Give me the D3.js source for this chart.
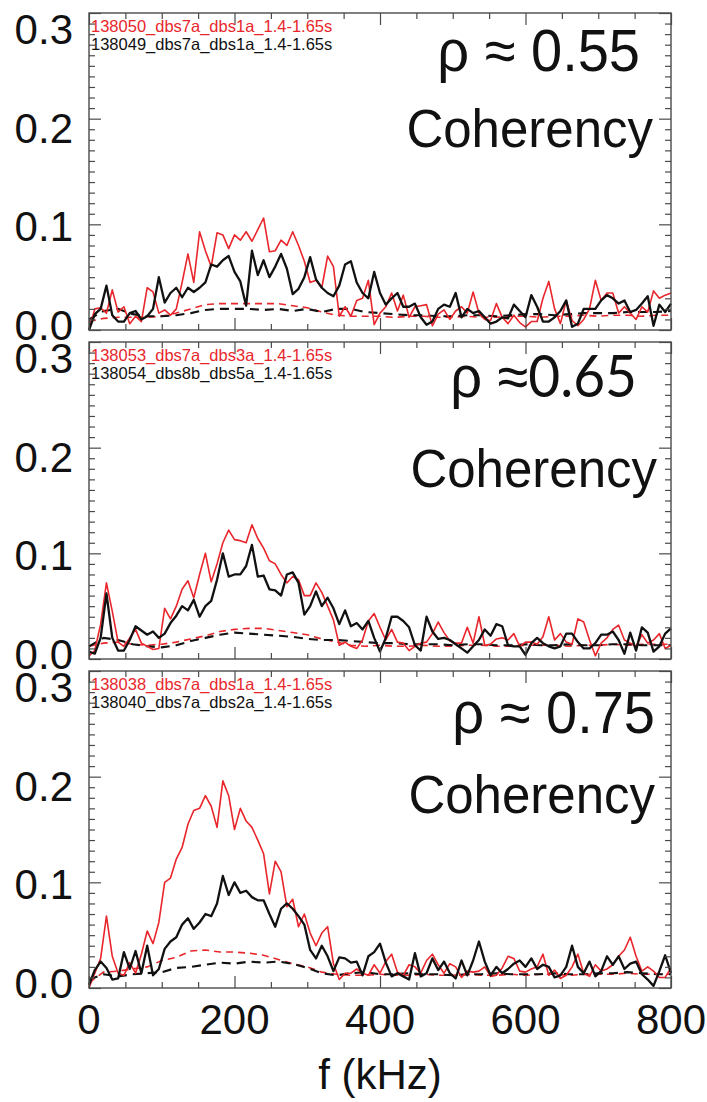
<!DOCTYPE html>
<html>
<head>
<meta charset="utf-8">
<script src="https://cdn.jsdelivr.net/npm/d3@7"></script>
<style>
    body { margin: 0; background: #fff; }
    svg { display: block; }
</style>
</head>
<body>
<div id="chart"></div>
<script>
// frequency grids (kHz)
const freq = d3.range(0, 801, 8)
const dashFreq = d3.range(0, 801, 20)

const xTickLabels = ["0", "200", "400", "600", "800"]
const yTickLabels = ["0.0", "0.1", "0.2", "0.3"]
const rhoLabels = ["0.55", "0.65", "0.75"]
const redNames = ["138050_dbs7a_dbs1a_1.4-1.65s", "138053_dbs7a_dbs3a_1.4-1.65s", "138038_dbs7a_dbs1a_1.4-1.65s"]
const blackNames = ["138049_dbs7a_dbs1a_1.4-1.65s", "138054_dbs8b_dbs5a_1.4-1.65s", "138040_dbs7a_dbs2a_1.4-1.65s"]

// panel 1 (rho ~ 0.55)
const red1 = [0.0, 0.02, 0.021, 0.016, 0.038, 0.017, 0.022, 0.006, 0.013, 0.008,
    0.04, 0.036, 0.016, 0.019, 0.014, 0.02, 0.045, 0.072, 0.045, 0.093,
    0.075, 0.06, 0.092, 0.09, 0.077, 0.09, 0.085, 0.093, 0.084, 0.095,
    0.106, 0.074, 0.075, 0.085, 0.08, 0.093, 0.08, 0.065, 0.045, 0.047,
    0.04, 0.07, 0.06, 0.013, 0.022, 0.013, 0.028, 0.03, 0.047, 0.005,
    0.016, 0.022, 0.035, 0.018, 0.033, 0.012, 0.022, 0.023, 0.024, 0.004,
    0.015, 0.019, 0.01, 0.018, 0.022, 0.016, 0.036, 0.016, 0.01, 0.009,
    0.025, 0.012, 0.006, 0.014, 0.007, 0.003, 0.008, 0.008, 0.03, 0.046,
    0.02, 0.006, 0.028, 0.009, 0.004, 0.01, 0.02, 0.047, 0.028, 0.035,
    0.035, 0.016, 0.022, 0.016, 0.01, 0.022, 0.017, 0.037, 0.03, 0.033, 0.035]
const black1 = [0.0, 0.015, 0.02, 0.042, 0.014, 0.008, 0.008, 0.016, 0.018, 0.01,
    0.013, 0.02, 0.05, 0.026, 0.035, 0.04, 0.031, 0.04, 0.036, 0.04,
    0.045, 0.062, 0.06, 0.066, 0.07, 0.055, 0.046, 0.023, 0.075, 0.052,
    0.066, 0.05, 0.06, 0.072, 0.058, 0.034, 0.039, 0.05, 0.069, 0.048,
    0.04, 0.035, 0.032, 0.042, 0.062, 0.065, 0.045, 0.035, 0.03, 0.055,
    0.035, 0.024, 0.03, 0.035, 0.022, 0.022, 0.025, 0.012, 0.005, 0.008,
    0.02, 0.024, 0.022, 0.035, 0.012, 0.02, 0.016, 0.018, 0.012, 0.006,
    0.008, 0.012, 0.011, 0.024, 0.018, 0.012, 0.033, 0.022, 0.008, 0.008,
    0.012, 0.018, 0.028, 0.003, 0.006, 0.02, 0.02, 0.02, 0.028, 0.033,
    0.03, 0.025, 0.028, 0.017, 0.019, 0.025, 0.032, 0.004, 0.024, 0.017, 0.025]
const redDash1 = [0.008, 0.011, 0.012, 0.012, 0.012, 0.013, 0.016, 0.02, 0.024, 0.025,
    0.025, 0.025, 0.025, 0.025, 0.023, 0.021, 0.017, 0.014, 0.013, 0.013,
    0.013, 0.012, 0.013, 0.013, 0.012, 0.012, 0.013, 0.012, 0.012, 0.013,
    0.013, 0.012, 0.013, 0.013, 0.014, 0.013, 0.014, 0.014, 0.013, 0.014, 0.014]
const blackDash1 = [0.01, 0.018, 0.02, 0.015, 0.013, 0.013, 0.014, 0.016, 0.019, 0.02,
    0.02, 0.02, 0.019, 0.02, 0.018, 0.02, 0.017, 0.02, 0.02, 0.017,
    0.016, 0.015, 0.014, 0.014, 0.013, 0.013, 0.014, 0.014, 0.013, 0.014,
    0.015, 0.015, 0.014, 0.015, 0.016, 0.016, 0.016, 0.017, 0.017, 0.017, 0.018]

// panel 2 (rho ~ 0.65)
const red2 = [0.003, 0.008, 0.033, 0.072, 0.045, 0.016, 0.012, 0.02, 0.028, 0.015,
    0.012, 0.009, 0.01, 0.048, 0.038, 0.05, 0.066, 0.074, 0.058, 0.08,
    0.1, 0.073, 0.09, 0.11, 0.122, 0.113, 0.112, 0.11, 0.127, 0.114,
    0.105, 0.093, 0.09, 0.08, 0.072, 0.078, 0.075, 0.06, 0.06, 0.072,
    0.063, 0.05, 0.037, 0.013, 0.016, 0.012, 0.01, 0.018, 0.036, 0.043,
    0.03, 0.018, 0.028, 0.016, 0.015, 0.008, 0.012, 0.015, 0.016, 0.024,
    0.035, 0.025, 0.017, 0.015, 0.015, 0.03, 0.015, 0.04, 0.013, 0.014,
    0.019, 0.02, 0.018, 0.024, 0.012, 0.016, 0.016, 0.014, 0.021, 0.04,
    0.018, 0.024, 0.016, 0.014, 0.038, 0.035, 0.018, 0.003, 0.015, 0.02,
    0.028, 0.032, 0.018, 0.015, 0.012, 0.023, 0.015, 0.018, 0.024, 0.01, 0.013]
const black2 = [0.007, 0.005, 0.02, 0.062, 0.02, 0.008, 0.008, 0.018, 0.031, 0.027,
    0.023, 0.026, 0.02, 0.024, 0.034, 0.041, 0.05, 0.046, 0.056, 0.04,
    0.05, 0.055, 0.075, 0.1, 0.078, 0.08, 0.08, 0.088, 0.108, 0.078,
    0.079, 0.066, 0.065, 0.06, 0.08, 0.082, 0.072, 0.042, 0.05, 0.064,
    0.05, 0.058, 0.048, 0.033, 0.046, 0.031, 0.034, 0.028, 0.036, 0.02,
    0.007, 0.02, 0.04, 0.04, 0.036, 0.03, 0.013, 0.008, 0.04, 0.026,
    0.019, 0.02, 0.018, 0.014, 0.01, 0.006, 0.012, 0.018, 0.028, 0.022,
    0.033, 0.031, 0.013, 0.012, 0.012, 0.004, 0.015, 0.02, 0.015, 0.012,
    0.01, 0.012, 0.024, 0.024, 0.016, 0.01, 0.01, 0.015, 0.023, 0.023,
    0.026, 0.018, 0.005, 0.025, 0.008, 0.03, 0.025, 0.007, 0.012, 0.024, 0.029]
const redDash2 = [0.012, 0.015, 0.016, 0.014, 0.013, 0.014, 0.016, 0.019, 0.022, 0.026,
    0.028, 0.029, 0.029, 0.027, 0.025, 0.023, 0.019, 0.016, 0.013, 0.012,
    0.013, 0.012, 0.012, 0.013, 0.012, 0.012, 0.013, 0.013, 0.012, 0.012,
    0.013, 0.013, 0.013, 0.012, 0.013, 0.013, 0.014, 0.013, 0.014, 0.014, 0.014]
const blackDash2 = [0.012, 0.02, 0.018, 0.014, 0.012, 0.011, 0.013, 0.017, 0.02, 0.023,
    0.025, 0.024, 0.023, 0.022, 0.021, 0.019, 0.018, 0.018, 0.017, 0.016,
    0.015, 0.015, 0.014, 0.014, 0.014, 0.013, 0.014, 0.014, 0.013, 0.013,
    0.014, 0.013, 0.013, 0.014, 0.013, 0.013, 0.014, 0.014, 0.013, 0.013, 0.013]

// panel 3 (rho ~ 0.75)
const red3 = [0.0, 0.014, 0.028, 0.068, 0.03, 0.014, 0.012, 0.024, 0.014, 0.032,
    0.054, 0.042, 0.062, 0.1, 0.104, 0.122, 0.133, 0.155, 0.168, 0.17,
    0.182, 0.172, 0.152, 0.196, 0.182, 0.15, 0.17, 0.158, 0.152, 0.14,
    0.127, 0.089, 0.12, 0.11, 0.077, 0.084, 0.058, 0.07, 0.052, 0.04,
    0.052, 0.058, 0.023, 0.008, 0.014, 0.014, 0.018, 0.014, 0.012, 0.022,
    0.014, 0.025, 0.032, 0.015, 0.012, 0.022, 0.02, 0.014, 0.026, 0.032,
    0.022, 0.014, 0.023, 0.02, 0.01, 0.016, 0.015, 0.016, 0.02, 0.011,
    0.012, 0.019, 0.03, 0.028, 0.016, 0.015, 0.018, 0.02, 0.032, 0.012,
    0.017, 0.009, 0.012, 0.02, 0.032, 0.014, 0.011, 0.022, 0.016, 0.018,
    0.022, 0.03, 0.036, 0.048, 0.03, 0.016, 0.02, 0.016, 0.01, 0.01, 0.019]
const black3 = [0.003, 0.017, 0.025, 0.019, 0.008, 0.009, 0.034, 0.018, 0.035, 0.014,
    0.04, 0.012, 0.018, 0.037, 0.044, 0.048, 0.06, 0.066, 0.056, 0.062,
    0.07, 0.068, 0.08, 0.106, 0.088, 0.1, 0.09, 0.092, 0.086, 0.083,
    0.083, 0.07, 0.058, 0.075, 0.08, 0.075, 0.068, 0.06, 0.036, 0.028,
    0.04, 0.03, 0.016, 0.029, 0.028, 0.024, 0.025, 0.012, 0.03, 0.034,
    0.042, 0.024, 0.011, 0.014, 0.011, 0.008, 0.033, 0.011, 0.014, 0.028,
    0.017, 0.025, 0.014, 0.009, 0.026, 0.012, 0.026, 0.044, 0.025, 0.012,
    0.02, 0.014, 0.018, 0.023, 0.026, 0.02, 0.028, 0.018, 0.022, 0.02,
    0.01, 0.012, 0.02, 0.04, 0.02, 0.014, 0.025, 0.011, 0.016, 0.03,
    0.022, 0.03, 0.018, 0.023, 0.025, 0.013, 0.008, 0.002, 0.016, 0.031, 0.014]
const redDash3 = [0.005, 0.015, 0.016, 0.018, 0.02, 0.026, 0.029, 0.035, 0.036, 0.034,
    0.034, 0.033, 0.031, 0.027, 0.023, 0.02, 0.015, 0.013, 0.012, 0.012,
    0.013, 0.012, 0.012, 0.013, 0.012, 0.012, 0.013, 0.012, 0.012, 0.013,
    0.012, 0.013, 0.013, 0.012, 0.013, 0.013, 0.013, 0.014, 0.013, 0.013, 0.013]
const blackDash3 = [0.008, 0.013, 0.011, 0.013, 0.014, 0.015, 0.019, 0.02, 0.022, 0.024,
    0.023, 0.025, 0.024, 0.025, 0.023, 0.019, 0.014, 0.012, 0.014, 0.015,
    0.013, 0.013, 0.014, 0.013, 0.013, 0.012, 0.013, 0.013, 0.014, 0.013,
    0.013, 0.013, 0.014, 0.013, 0.013, 0.014, 0.014, 0.015, 0.014, 0.013, 0.013]

const panelData = [
    { red: red1, black: black1, redDash: redDash1, blackDash: blackDash1 },
    { red: red2, black: black2, redDash: redDash2, blackDash: blackDash2 },
    { red: red3, black: black3, redDash: redDash3, blackDash: blackDash3 }
]

const width = 707
const height = 1102
const left = 89
const right = 671
const panelTops = [13, 342, 671]
const panelHeight = 317
const RED = "#e8262b"
const BLACK = "#111"
const FRAME = "#4a4a4a"

// text placement inside each panel (right aligned ends, baselines from panel top)
const rhoPos = [{ x: 640, y: 58 }, { x: 637, y: 55 }, { x: 655, y: 62 }]
const cohPos = [{ x: 653, y: 134 }, { x: 657, y: 145 }, { x: 655, y: 142 }]

const svg = d3.select("#chart")
    .append("svg")
    .attr("width", width)
    .attr("height", height)
    .style("font-family", "'Liberation Sans', Arial, sans-serif")

const x = d3.scaleLinear().domain([0, 800]).range([left, right])

panelData.forEach((p, k) => {
    const top = panelTops[k]
    const bottom = top + panelHeight
    const y = d3.scaleLinear().domain([0, 0.3]).range([bottom, top])
    // labels sit a little lower than their ticks toward the top of the panel
    const yLab = d3.scaleLinear().domain([0, 0.3]).range([bottom - 5, top + 16])

    const g = svg.append("g")

    // curves
    const line = d3.line().x(d => x(d[0])).y(d => y(d[1]))
    g.append("path")
        .datum(dashFreq.map((f, i) => [f, p.redDash[i]]))
        .attr("d", line).attr("fill", "none")
        .attr("stroke", RED).attr("stroke-width", 1.6).attr("stroke-dasharray", "7,5")
    g.append("path")
        .datum(dashFreq.map((f, i) => [f, p.blackDash[i]]))
        .attr("d", line).attr("fill", "none")
        .attr("stroke", BLACK).attr("stroke-width", 2.1).attr("stroke-dasharray", "9,6")
    g.append("path")
        .datum(freq.map((f, i) => [f, p.red[i]]))
        .attr("d", line).attr("fill", "none")
        .attr("stroke", RED).attr("stroke-width", 1.6).attr("stroke-linejoin", "round")
    g.append("path")
        .datum(freq.map((f, i) => [f, p.black[i]]))
        .attr("d", line).attr("fill", "none")
        .attr("stroke", BLACK).attr("stroke-width", 2.3).attr("stroke-linejoin", "round")

    // ticks on all four sides, pointing in
    const xMajor = [0, 200, 400, 600, 800]
    const xMinor = d3.range(50, 800, 50).filter(v => v % 200 !== 0)
    const yMajor = [0, 0.1, 0.2, 0.3]
    const yMinor = d3.range(1, 30).filter(v => v % 10 !== 0).map(v => v / 100)

    const axes = [
        [d3.axisBottom(x).tickValues(xMajor).tickSize(-12), `translate(0,${bottom})`],
        [d3.axisBottom(x).tickValues(xMinor).tickSize(-6), `translate(0,${bottom})`],
        [d3.axisTop(x).tickValues(xMajor).tickSize(-12), `translate(0,${top})`],
        [d3.axisTop(x).tickValues(xMinor).tickSize(-6), `translate(0,${top})`],
        [d3.axisLeft(y).tickValues(yMajor).tickSize(-12), `translate(${left},0)`],
        [d3.axisLeft(y).tickValues(yMinor).tickSize(-6), `translate(${left},0)`],
        [d3.axisRight(y).tickValues(yMajor).tickSize(-12), `translate(${right},0)`],
        [d3.axisRight(y).tickValues(yMinor).tickSize(-6), `translate(${right},0)`]
    ]
    axes.forEach(([ax, tr]) => {
        const a = g.append("g").attr("transform", tr)
            .call(ax.tickFormat("").tickSizeOuter(0))
        a.select(".domain").remove()
        a.selectAll("line").attr("stroke", FRAME).attr("stroke-width", 1.2)
    })

    g.append("rect")
        .attr("x", left).attr("y", top)
        .attr("width", right - left).attr("height", panelHeight)
        .attr("fill", "none").attr("stroke", FRAME).attr("stroke-width", 1.4)

    // y tick labels
    g.selectAll(".ylab")
        .data(yMajor)
        .enter().append("text")
        .attr("x", 73)
        .attr("y", d => yLab(d) + 15)
        .attr("text-anchor", "end")
        .attr("font-size", 42)
        .attr("fill", BLACK)
        .text((d, i) => yTickLabels[i])

    // legend
    g.append("text").attr("x", left + 2).attr("y", top + 19)
        .attr("font-size", 16.5).attr("fill", RED).text(redNames[k])
    g.append("text").attr("x", left + 2).attr("y", top + 37)
        .attr("font-size", 16.5).attr("fill", BLACK).text(blackNames[k])

    // annotations
    const rho = g.append("text")
        .attr("transform", `translate(${rhoPos[k].x},${top + rhoPos[k].y}) scale(1,1.06)`)
        .attr("text-anchor", "end")
        .attr("font-size", 56)
        .attr("fill", BLACK)
    if (k === 1) {
        rho.append("tspan").text("\u03c1 \u2248")
        rho.append("tspan")
            .style("font-family", "Lato, 'Open Sans', sans-serif")
            .attr("font-weight", 400)
            .attr("font-size", 55)
            .text(rhoLabels[k])
    } else {
        rho.text("\u03c1 \u2248 " + rhoLabels[k])
    }
    g.append("text")
        .attr("transform", `translate(${cohPos[k].x},${top + cohPos[k].y}) scale(1,1.06)`)
        .attr("text-anchor", "end")
        .attr("font-size", 51)
        .attr("fill", BLACK)
        .text("Coherency")

    // x labels on the bottom panel only
    if (k === panelData.length - 1) {
        g.selectAll(".xlab")
            .data(xMajor)
            .enter().append("text")
            .attr("x", d => x(d))
            .attr("y", bottom + 46)
            .attr("text-anchor", "middle")
            .attr("font-size", 42)
            .attr("fill", BLACK)
            .text((d, i) => xTickLabels[i])
        g.append("text")
            .attr("x", 380)
            .attr("y", bottom + 101)
            .attr("text-anchor", "middle")
            .attr("font-size", 42)
            .attr("fill", BLACK)
            .text("f (kHz)")
    }
})
</script>
</body>
</html>
